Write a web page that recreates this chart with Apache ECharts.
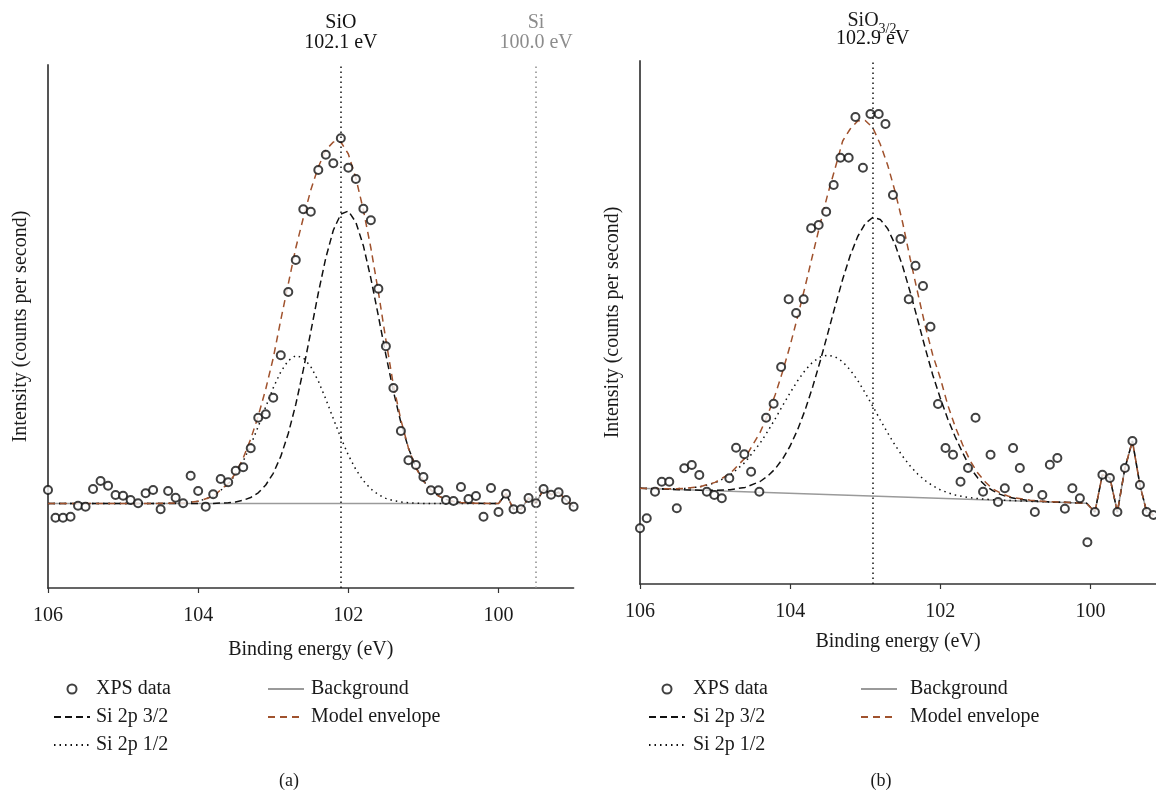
<!DOCTYPE html>
<html><head><meta charset="utf-8">
<script src="https://cdn.jsdelivr.net/npm/echarts@6/dist/echarts.min.js"></script>
<style>html,body{margin:0;padding:0;background:#fff}#c{width:1156px;height:798px}</style>
</head><body><div id="c"></div>
<script>
// ---------------- data: panel (a) SiO ----------------
const tickValues = [100, 102, 104, 106];
const energyA = [106.0,105.9,105.8,105.7,105.6,105.5,105.4,105.3,105.2,105.1,105.0,104.9,104.8,104.7,104.6,104.5,104.4,104.3,104.2,104.1,104.0,103.9,103.8,103.7,103.6,103.5,103.4,103.3,103.2,103.1,103.0,102.9,102.8,102.7,102.6,102.5,102.4,102.3,102.2,102.1,102.0,101.9,101.8,101.7,101.6,101.5,101.4,101.3,101.2,101.1,101.0,100.9,100.8,100.7,100.6,100.5,100.4,100.3,100.2,100.1,100.0,99.9,99.8,99.7,99.6,99.5,99.4,99.3,99.2,99.1,99.0];
const xpsA = [100,72.3,72.3,73.3,84.3,83.3,101,109,104.3,95,94.3,90,86.7,96.7,100,80.7,99,92.3,86.7,114.3,99,83.3,95.7,111,107.7,119.3,122.7,141.7,172.3,175.7,192.3,234.7,298,330,380.7,378.3,420,435.3,426.7,451.7,422.3,411,381.3,369.7,301.3,243.7,202,159,129.7,125,113,99.7,99.7,90,89,103,91,94,73.3,102,78,96.3,80.7,80.7,92,86.7,101,95.3,97.7,90,83.3];
const curveXA = [106.0,104.6,104.4,104.2,104.0,103.8,103.6,103.5,103.4,103.3,103.2,103.1,103.0,102.9,102.8,102.7,102.6,102.5,102.4,102.3,102.2,102.1,102.0,101.9,101.8,101.7,101.6,101.5,101.4,101.3,101.2,101.1,101.0,100.9,100.8,100.7,100.6,100.5,100.3,100.0];
const si32A = [86.5,86.5,86.5,86.5,86.5,86.6,87.3,88.1,89.7,92.5,97.2,105.0,116.7,133.6,156.5,185.6,220.1,258.3,297.0,332.2,359.8,376.0,378.9,367.8,344.3,311.7,274.0,235.2,198.8,167.4,142.0,122.8,109.1,99.9,94.1,90.6,88.6,87.5,86.7,86.5];
const si12A = [86.5,86.5,86.6,87.1,88.7,93.6,105.7,115.7,128.8,145.0,163.5,183.2,202.1,218.2,229.4,234.4,232.2,223.4,209.0,190.9,171.3,152.2,134.9,120.5,109.3,101.0,95.4,91.6,89.3,88.0,87.2,86.8,86.6,86.5,86.5,86.5,86.5,86.5,86.5,86.5];
const envA = [86.5,86.6,86.7,87.1,88.7,93.7,106.5,117,132,151,174,201,232,270,306,342,372,400,423,440,448,448,436,412,380,342,298,250,205,170,142,122,109,100,94,90.6,88.6,87.5,86.7,86.5];
const bgXA = [106.0, 100.0];
const bgYA = [86.5, 86.5];
const markerXA = [102.1, 99.5];
const markerTextA = ['SiO\n102.1 eV', 'Si\n100.0 eV'];

// ---------------- data: panel (b) SiO3/2 ----------------
const energyB = [106.00,105.91,105.80,105.71,105.61,105.51,105.41,105.31,105.21,105.11,105.01,104.91,104.81,104.72,104.61,104.52,104.41,104.32,104.22,104.12,104.02,103.92,103.82,103.72,103.62,103.52,103.42,103.33,103.22,103.13,103.03,102.93,102.82,102.73,102.63,102.53,102.42,102.33,102.23,102.13,102.03,101.93,101.83,101.73,101.63,101.53,101.43,101.33,101.23,101.14,101.03,100.94,100.83,100.74,100.64,100.54,100.44,100.34,100.24,100.14,100.04,99.94,99.84,99.74,99.64,99.54,99.44,99.34,99.25,99.16];
const xpsB = [56.7,66.7,93.3,103.3,103.3,76.7,116.7,120,110,93.3,90,86.7,106.7,137.3,130.7,113.3,93.3,167.3,181.3,218,285.7,272,285.7,356.7,360,373.3,400,427.3,427.3,468,417.3,471,471,461,390,346,285.7,319.3,299,258.3,181,137,130.3,103.3,117,167.3,93.3,130.3,83,96.7,137,117,96.7,73,90,120.3,127,76.3,96.7,86.7,42.7,73,110.3,107,73,117,144,100,73,70];
const curveXB = [106.0,105.6,105.4,105.2,105.0,104.8,104.6,104.4,104.3,104.2,104.1,104.0,103.9,103.8,103.7,103.6,103.5,103.4,103.3,103.2,103.1,103.0,102.9,102.8,102.7,102.6,102.5,102.4,102.3,102.2,102.1,102.0,101.9,101.8,101.7,101.6,101.5,101.4,101.3,101.2,101.1,101.0,100.8,100.6,100.4,100.05];
const si32B = [96.7,95.7,95.2,94.8,94.7,95.3,97.6,103.5,108.8,116.1,126.1,139,155.4,175.1,198.1,223.7,251.1,278.9,305.7,329.4,348.5,361.5,367.5,365.6,356.3,340.2,318.5,292.8,265,236.7,210,187,166,148,132,117,107,99.5,94.3,90.6,88.1,86.4,84.4,83.4,82.8,81.8];
const si12B = [96.7,96.2,96.6,98.2,102.1,109.8,122.7,141.8,153.5,166.1,179.3,192.2,204.3,214.7,222.9,228,229.9,228.2,223.2,215.1,204.6,192.2,178.9,165.2,152,139.6,128.6,118.9,110.9,104.3,99.2,95.2,92.3,90,88.5,87.2,86.4,85.8,85.3,84.9,84.6,84.3,83.7,83.2,82.7,81.8];
const envB = [96.7,96.2,96.6,98.3,102.6,111.4,127.1,152.6,169.8,190,213.4,239.5,268.2,298.6,330,361,390.5,416.9,444,456,464,464.5,457.4,441,419.8,393,362,326,292,259,230,207,180,158,140,124,112,103,96,92,89,87,84.8,83.5,82.8,81.8];
const bgXB = [106.0, 100.05];
const bgYB = [96.7, 81.8];
const markerXB = [102.9];
const markerTextB = ['102.9 eV'];
const tailStart = 61;

// ---------------- chart ----------------
const F = 'Liberation Serif';
const TXT = '#1a1a1a';
const pairs = (xs, ys) => xs.map((x, i) => [x, ys[i]]);

function panelSeries(p, D) {
  const tail = pairs(D.energy.slice(tailStart), D.xps.slice(tailStart));
  const base = {type: 'line', xAxisIndex: p, yAxisIndex: p, symbol: 'none', showSymbol: false,
                animation: false, silent: true, z: 2};
  return [
    Object.assign({}, base, {name: 'Background', data: pairs(D.bgX, D.bgY).concat(tail),
      lineStyle: {color: '#9a9a9a', width: 1.5}, itemStyle: {color: '#9a9a9a'}}),
    Object.assign({}, base, {name: 'Si 2p 1/2', data: pairs(D.cx, D.s12),
      lineStyle: {color: '#111', width: 1.5, type: [1.5, 4]}, itemStyle: {color: '#111'}}),
    Object.assign({}, base, {name: 'Si 2p 3/2', data: pairs(D.cx, D.s32).concat(tail),
      lineStyle: {color: '#111', width: 1.5, type: [7, 4]}, itemStyle: {color: '#111'}}),
    Object.assign({}, base, {name: 'Model envelope', data: pairs(D.cx, D.env).concat(tail),
      lineStyle: {color: '#a0522d', width: 1.5, type: [7, 5]}, itemStyle: {color: '#a0522d'}}),
    {type: 'scatter', name: 'XPS data', xAxisIndex: p, yAxisIndex: p, data: pairs(D.energy, D.xps),
     symbol: 'emptyCircle', symbolSize: 8, z: 4, silent: true, animation: false,
     itemStyle: {color: '#111', borderColor: '#111', borderWidth: 1.4},
     markLine: {silent: true, animation: false, symbol: ['none', 'none'],
       data: D.markers.map((x, i) => ({
         xAxis: x,
         lineStyle: {color: D.markerColors[i], width: 1.5, type: [1.5, 3.5]},
         label: {show: true, position: 'end', distance: 12, formatter: D.markerText[i],
                 color: D.markerColors[i], fontFamily: F, fontSize: 20, lineHeight: 20}
       }))}}
  ];
}

const seriesA = panelSeries(0, {energy: energyA, xps: xpsA, cx: curveXA, s32: si32A, s12: si12A, env: envA,
  bgX: bgXA, bgY: bgYA, markers: markerXA, markerText: markerTextA, markerColors: ['#111', '#8c8c8c']});
const seriesB = panelSeries(1, {energy: energyB, xps: xpsB, cx: curveXB, s32: si32B, s12: si12B, env: envB,
  bgX: bgXB, bgY: bgYB, markers: markerXB, markerText: markerTextB, markerColors: ['#111']});

function xAxisCfg(grid, min, labelMargin, nameGap) {
  return {
    type: 'value', gridIndex: grid, min: min, max: 106, inverse: true,
    name: 'Binding energy (eV)', nameLocation: 'middle', nameGap: nameGap,
    nameTextStyle: {fontFamily: F, fontSize: 20, color: TXT},
    axisLine: {show: true, lineStyle: {color: '#333', width: 1.5}},
    axisTick: {show: true, inside: false, length: 5, customValues: tickValues, lineStyle: {color: '#333', width: 1.2}},
    axisLabel: {show: true, customValues: tickValues, margin: labelMargin, fontFamily: F, fontSize: 20, color: TXT},
    splitLine: {show: false}
  };
}
function yAxisCfg(grid, min, max) {
  return {
    type: 'value', gridIndex: grid, min: min, max: max,
    name: 'Intensity (counts per second)', nameLocation: 'middle', nameGap: 17,
    nameTextStyle: {fontFamily: F, fontSize: 20, color: TXT},
    axisLine: {show: true, lineStyle: {color: '#555', width: 2}},
    axisTick: {show: false}, axisLabel: {show: false}, splitLine: {show: false}
  };
}

const hiddenMarker = {opacity: 0};
const legendBase = {orient: 'vertical', itemWidth: 36, itemHeight: 9, itemGap: 8, selectedMode: false,
  textStyle: {fontFamily: F, fontSize: 20, color: TXT}};
function legendCfg(left, names, pad) {
  return Object.assign({}, legendBase, {left: left, top: 674,
    data: names.map(n => n === 'XPS data' ? {name: n} : {name: n, itemStyle: hiddenMarker}),
    textStyle: Object.assign({}, legendBase.textStyle, {padding: [0, 0, 0, pad]})});
}

const option = {
  backgroundColor: '#fff',
  animation: false,
  grid: [
    {left: 48, right: 582.4, top: 65, bottom: 210, containLabel: false},
    {left: 640, right: 0, top: 61, bottom: 214, containLabel: false}
  ],
  xAxis: [xAxisCfg(0, 99, 18, 52), xAxisCfg(1, 99.126, 18, 48)],
  yAxis: [yAxisCfg(0, 2, 525), yAxisCfg(1, 1, 524)],
  title: [
    {text: '(a)', left: 289, top: 772, textAlign: 'center', padding: 0,
     textStyle: {fontFamily: F, fontSize: 18, fontWeight: 'normal', color: TXT}},
    {text: '(b)', left: 881, top: 772, textAlign: 'center', padding: 0,
     textStyle: {fontFamily: F, fontSize: 18, fontWeight: 'normal', color: TXT}},
    {text: '{m|SiO}{s|3/2}', left: 872, top: 6, textAlign: 'center', padding: 0,
     textStyle: {fontWeight: 'normal', rich: {
       m: {fontFamily: F, fontSize: 20, fontWeight: 'normal', color: TXT},
       s: {fontFamily: F, fontSize: 14, fontWeight: 'normal', color: TXT, padding: [16, 0, 0, 0]}}}}
  ],
  legend: [
    legendCfg(48, ['XPS data', 'Si 2p 3/2', 'Si 2p 1/2'], 1),
    legendCfg(262, ['Background', 'Model envelope'], 2),
    legendCfg(643, ['XPS data', 'Si 2p 3/2', 'Si 2p 1/2'], 3),
    legendCfg(855, ['Background', 'Model envelope'], 8)
  ],
  series: seriesA.concat(seriesB)
};

const chart = echarts.init(document.getElementById('c'), null, {renderer: 'canvas'});
chart.setOption(option);
</script>
</body></html>
